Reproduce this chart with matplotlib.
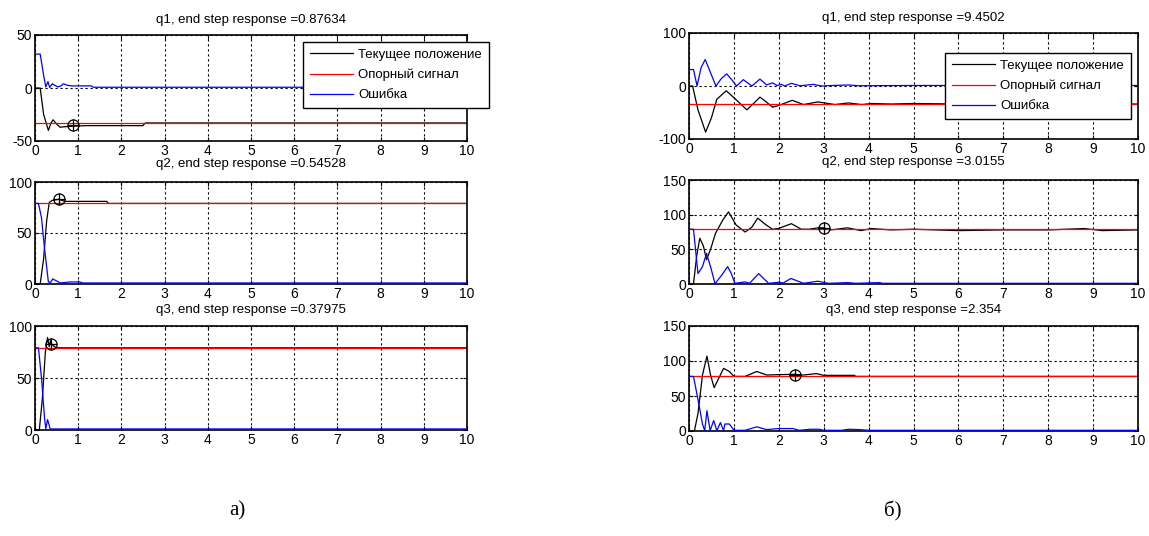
import matplotlib
matplotlib.use("Agg")
import matplotlib.pyplot as plt

plt.rcParams['font.family'] = ['Liberation Sans', 'DejaVu Sans']
plt.rcParams['axes.unicode_minus'] = False

# ---------------- data, panel a) ----------------
a_titles = ["q1, end step response =0.87634",
            "q2, end step response =0.54528",
            "q3, end step response =0.37975"]
a_ref = [-33, 79, 79]
a_mark = [(0.876, -35), (0.545, 83), (0.38, 83)]

a1_t_pos = [0, 0.12, 0.2, 0.31, 0.37, 0.42, 0.5, 0.58, 0.7, 0.876, 1.2, 2.5, 2.55, 10]
a1_pos = [0, 0, -25, -40, -33, -30, -34, -37, -36.5, -36, -35.5, -35.5, -33, -33]
a1_t_err = [0, 0.12, 0.2, 0.25, 0.3, 0.34, 0.4, 0.46, 0.53, 0.6, 0.66, 0.75, 0.85, 1.3, 1.35, 10]
a1_err = [32, 32, 12, 1, 6, 0.5, 4, 2.5, 1, 2, 4, 2.5, 2, 2, 0.7, 0.7]

a2_t_pos = [0, 0.12, 0.2, 0.27, 0.33, 0.4, 0.545, 0.7, 1.66, 1.7, 10]
a2_pos = [0, 0, 25, 62, 80, 82, 83, 81, 81, 79, 79]
a2_t_err = [0, 0.08, 0.15, 0.22, 0.31, 0.36, 0.41, 0.5, 0.58, 0.7, 0.8, 1.04, 1.1, 10]
a2_err = [79, 79, 65, 35, 2, 1.5, 5, 3, 1, 1.5, 2, 2, 1, 1]

a3_t_pos = [0, 0.1, 0.17, 0.24, 0.29, 0.33, 0.36, 0.38, 0.45, 0.55, 10]
a3_pos = [0, 0, 30, 75, 89, 80, 86, 83, 80, 79, 79]
a3_t_err = [0, 0.08, 0.15, 0.22, 0.25, 0.29, 0.32, 0.35, 10]
a3_err = [79, 79, 50, 12, 1, 10, 6, 1, 1]

# ---------------- data, panel б) ----------------
b_titles = ["q1, end step response =9.4502",
            "q2, end step response =3.0155",
            "q3, end step response =2.354"]
b_ref = [-34, 79, 78]
b_mark = [None, (3.0, 81), (2.354, 80)]

b1_t_pos = [0, 0.08, 0.2, 0.37, 0.5, 0.62, 0.83, 1.0, 1.29, 1.45, 1.58, 1.72, 1.86,
            1.99, 2.3, 2.55, 2.87, 3.25, 3.55, 3.85, 4.07, 4.5, 5.0, 6.0, 7.0, 8.0, 10]
b1_pos = [0, 0, -45, -87, -60, -25, -9, -22, -45, -32, -21, -30, -40,
          -37, -27, -35, -30, -35, -32, -35, -33, -34, -33, -34, -33, -34, -34]
b1_t_err = [0, 0.1, 0.18, 0.27, 0.36, 0.48, 0.6, 0.72, 0.84, 0.95, 1.06, 1.21, 1.4,
            1.58, 1.73, 1.86, 1.96, 2.06, 2.13, 2.28, 2.47, 2.77, 2.96, 3.22,
            3.55, 3.77, 5.0, 10]
b1_err = [31, 31, 0, 35, 50, 25, 0, 14, 23, 12, 0, 12, 0,
          13, 2, 6, 1, 3, 0, 5, 0.5, 3, 0, 1,
          2, 0.5, 1, 1]

b2_t_pos = [0, 0.1, 0.17, 0.24, 0.32, 0.39, 0.48, 0.59, 0.75, 0.88, 1.05, 1.25, 1.4,
            1.53, 1.7, 1.86, 1.99, 2.28, 2.5, 2.68, 2.87, 3.0, 3.16, 3.53, 3.83,
            4.06, 4.5, 5.0, 6.0, 7.0, 8.0, 8.8, 9.2, 10]
b2_pos = [0, 0, 40, 66, 55, 35, 50, 73, 92, 104, 85, 75, 82,
          95, 86, 79, 80, 87, 79, 79, 81, 81, 78, 81, 77,
          80, 78, 79, 77, 78, 78, 80, 77, 78]
b2_t_err = [0, 0.1, 0.2, 0.3, 0.39, 0.48, 0.58, 0.72, 0.86, 0.95, 1.02, 1.25, 1.35,
            1.55, 1.77, 2.0, 2.1, 2.27, 2.55, 2.87, 3.1, 3.55, 3.7, 4.25, 4.3, 10]
b2_err = [79, 79, 15, 25, 44, 25, 0.5, 12, 25, 14, 1, 3, 1,
          15, 1, 2.5, 1.5, 8, 1, 4, 1, 2, 1, 2, 1, 1]

b3_t_pos = [0, 0.12, 0.2, 0.3, 0.4, 0.48, 0.56, 0.66, 0.77, 0.9, 1.0, 1.25, 1.51,
            1.73, 2.0, 2.354, 2.55, 2.84, 3.0, 3.68, 3.72, 10]
b3_pos = [0, 0, 25, 80, 107, 80, 62, 75, 89.5, 85, 78, 78, 85,
          80, 80.5, 81, 80, 82, 79.5, 79.5, 78, 78]
b3_t_err = [0, 0.1, 0.2, 0.3, 0.35, 0.4, 0.47, 0.55, 0.62, 0.7, 0.77, 0.8, 0.9,
            1.0, 1.25, 1.51, 1.73, 2.0, 2.32, 2.45, 2.7, 2.9, 3.0, 3.4, 3.55,
            3.8, 4.0, 10]
b3_err = [78, 78, 45, 10, 0.5, 29, 0.5, 15, 0.5, 12, 0.5, 10, 10,
          1, 1, 6, 2, 3.5, 3.5, 1, 2.5, 2.5, 1, 1, 2.5,
          2, 1, 1]

legend_labels = ["Текущее положение", "Опорный сигнал", "Ошибка"]
ylims = {"a": [(-50, 50), (0, 100), (0, 100)],
         "b": [(-100, 100), (0, 150), (0, 150)]}
yticks = {"a": [[-50, 0, 50], [0, 50, 100], [0, 50, 100]],
          "b": [[-100, 0, 100], [0, 50, 100, 150], [0, 50, 100, 150]]}
title_pads = [9, 10.5, 9.5]

a_series = [(a1_t_pos, a1_pos, a1_t_err, a1_err),
            (a2_t_pos, a2_pos, a2_t_err, a2_err),
            (a3_t_pos, a3_pos, a3_t_err, a3_err)]
b_series = [(b1_t_pos, b1_pos, b1_t_err, b1_err),
            (b2_t_pos, b2_pos, b2_t_err, b2_err),
            (b3_t_pos, b3_pos, b3_t_err, b3_err)]

W, H = 1149, 536
fig = plt.figure(figsize=(W / 100, H / 100), dpi=100)


def px_axes(x0, y0, x1, y1):
    # pixel box (top-left origin) -> figure axes
    return fig.add_axes([x0 / W, 1 - y1 / H, (x1 - x0) / W, (y1 - y0) / H])


def draw_panel(ax, series, ref, mark, title, ylim, ytk, pad):
    t_pos, pos, t_err, err = series
    l1, = ax.plot(t_pos, pos, color='black', lw=0.9)
    l2, = ax.plot([0, 10], [ref, ref], color='red', lw=0.9)
    l3, = ax.plot(t_err, err, color='blue', lw=0.9, zorder=3)
    if mark is not None:
        ax.plot([mark[0]], [mark[1]], marker='o', ms=8, mfc='none', mec='black', mew=0.9)
        ax.plot([mark[0]], [mark[1]], marker='+', ms=8, color='black', mew=0.9)
    ax.set_xlim(0, 10)
    ax.set_ylim(*ylim)
    ax.set_xticks(range(11))
    ax.set_yticks(ytk)
    ax.grid(True, color='black', linestyle=(0, (2, 2.5)), lw=0.8)
    ax.tick_params(direction='in', length=3, labelsize=10, top=True, right=True, pad=2)
    for s in ax.spines.values():
        s.set_linewidth(1.2)
    ax.set_title(title, fontsize=9.5, pad=pad)
    return [l1, l2, l3]


def add_legend(lines, x, y):
    fig.legend(lines, legend_labels, loc='upper left',
               bbox_to_anchor=(x / W, 1 - y / H), fontsize=9.5,
               fancybox=False, edgecolor='black', framealpha=1,
               handlelength=3.3, borderpad=0.5, labelspacing=0.6,
               handletextpad=0.4, borderaxespad=0)


a_boxes = [(35, 35, 467, 141), (35, 182, 467, 284), (35, 326, 467, 430)]
b_boxes = [(689, 33, 1138, 139), (689, 180, 1138, 284), (689, 326, 1138, 431)]

for i in range(3):
    ax = px_axes(*a_boxes[i])
    lines = draw_panel(ax, a_series[i], a_ref[i], a_mark[i], a_titles[i],
                       ylims["a"][i], yticks["a"][i], title_pads[i])
    if i == 0:
        add_legend(lines, 303, 42)

for i in range(3):
    ax = px_axes(*b_boxes[i])
    lines = draw_panel(ax, b_series[i], b_ref[i], b_mark[i], b_titles[i],
                       ylims["b"][i], yticks["b"][i], title_pads[i])
    if i == 0:
        add_legend(lines, 945, 53)

fig.text(237 / W, 1 - 511 / H, "а)", family='Liberation Serif', fontsize=15,
         ha='center', va='center')
fig.text(893 / W, 1 - 511 / H, "б)", family='Liberation Serif', fontsize=15,
         ha='center', va='center')

fig.savefig("out.png", dpi=100)
